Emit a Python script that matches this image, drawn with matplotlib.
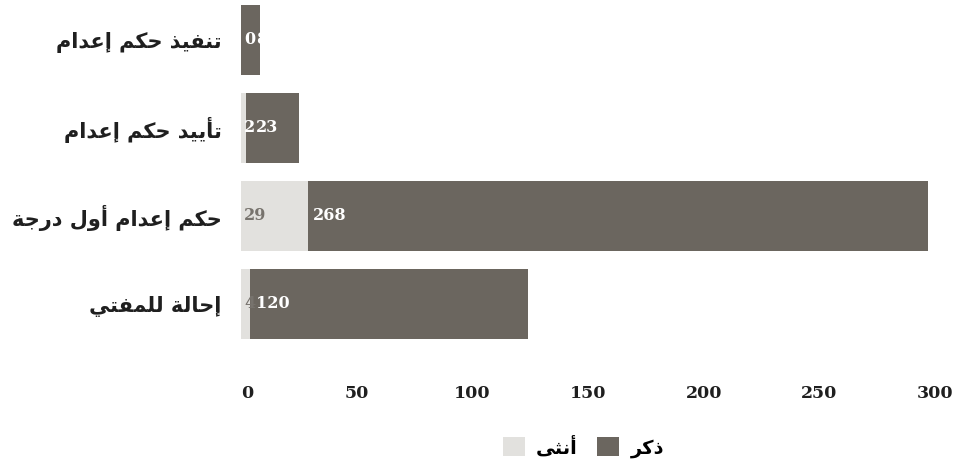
import matplotlib
matplotlib.use('Agg')
import matplotlib.pyplot as plt
from matplotlib.patches import Patch
from matplotlib.transforms import offset_copy

# Arabic letters -> presentation forms (isolated, final[, initial, medial])
FORMS = {
    'ا': (0xFE8D, 0xFE8E), 'أ': (0xFE83, 0xFE84), 'إ': (0xFE87, 0xFE88),
    'ة': (0xFE93, 0xFE94), 'د': (0xFEA9, 0xFEAA), 'ذ': (0xFEAB, 0xFEAC),
    'ر': (0xFEAD, 0xFEAE), 'و': (0xFEED, 0xFEEE), 'ى': (0xFEEF, 0xFEF0),
    'ت': (0xFE95, 0xFE96, 0xFE97, 0xFE98), 'ث': (0xFE99, 0xFE9A, 0xFE9B, 0xFE9C),
    'ج': (0xFE9D, 0xFE9E, 0xFE9F, 0xFEA0), 'ح': (0xFEA1, 0xFEA2, 0xFEA3, 0xFEA4),
    'ع': (0xFEC9, 0xFECA, 0xFECB, 0xFECC), 'ف': (0xFED1, 0xFED2, 0xFED3, 0xFED4),
    'ك': (0xFED9, 0xFEDA, 0xFEDB, 0xFEDC), 'ل': (0xFEDD, 0xFEDE, 0xFEDF, 0xFEE0),
    'م': (0xFEE1, 0xFEE2, 0xFEE3, 0xFEE4), 'ن': (0xFEE5, 0xFEE6, 0xFEE7, 0xFEE8),
    'ي': (0xFEF1, 0xFEF2, 0xFEF3, 0xFEF4),
}


def shape(text):
    out = []
    for i, ch in enumerate(text):
        f = FORMS.get(ch)
        if f is None:
            out.append(ch)
            continue
        prev = text[i - 1] if i > 0 else ''
        nxt = text[i + 1] if i + 1 < len(text) else ''
        joins_prev = prev in FORMS and len(FORMS[prev]) == 4
        joins_next = len(f) == 4 and nxt in FORMS
        if joins_prev and joins_next:
            code = f[3]
        elif joins_prev:
            code = f[1]
        elif joins_next:
            code = f[2]
        else:
            code = f[0]
        out.append(chr(code))
    # matplotlib lays glyphs left to right, so reverse for RTL
    return ''.join(reversed(out))


# Data
categories = ['تنفيذ حكم إعدام', 'تأييد حكم إعدام', 'حكم إعدام أول درجة', 'إحالة للمفتي']
female = [0, 2, 29, 4]
male = [8, 23, 268, 120]
series_names = ['أنثى', 'ذكر']
x_ticks = [0, 50, 100, 150, 200, 250, 300]

colors = {'female': '#e2e1de', 'male': '#6b665f', 'female_text': '#77736d', 'text': '#1f1f1f'}
arabic_font = 'DejaVu Sans'
number_font = 'DejaVu Serif'

fig = plt.figure(figsize=(9.63, 4.63), dpi=100)
ax = fig.add_axes([0.2503, 0.2484, 0.971 - 0.2503, 0.7516])

y = list(range(len(categories)))
ax.barh(y, female, height=0.795, color=colors['female'])
ax.barh(y, male, left=female, height=0.795, color=colors['male'])

ax.set_xlim(0, 300)
ax.set_ylim(3.5, -0.45)
for side in ax.spines.values():
    side.set_visible(False)

ax.set_yticks(y)
ax.set_yticklabels([shape(c) for c in categories], fontfamily=arabic_font,
                   fontweight='bold', fontsize=15, color=colors['text'])
ax.set_xticks(x_ticks)
ax.set_xticklabels([str(t) for t in x_ticks], fontfamily=number_font,
                   fontweight='bold', fontsize=12.5, color=colors['text'])
ax.tick_params(axis='y', length=0, pad=14)
ax.tick_params(axis='x', length=0, pad=27)
ax.get_xticklabels()[0].set_horizontalalignment('left')

# Value labels inside the segments
fig.canvas.draw()
renderer = fig.canvas.get_renderer()
for i in y:
    f_txt = ax.text(0, i, str(female[i]), ha='left', va='center', fontfamily=number_font,
                    fontweight='bold', fontsize=11.5, color=colors['female_text'],
                    transform=offset_copy(ax.transData, fig=fig, x=3, y=0, units='dots'))
    f_ext = f_txt.get_window_extent(renderer)
    seg_start = ax.transData.transform((female[i], i))[0]
    # a label that spills onto the dark segment is drawn in white
    if f_ext.x0 + f_ext.width / 2 > seg_start:
        f_txt.set_color('white')
    x_px = max(seg_start + 5, f_ext.x1 + 1)
    x_data = ax.transData.inverted().transform((x_px, 0))[0]
    ax.text(x_data, i, str(male[i]), ha='left', va='center', fontfamily=number_font,
            fontweight='bold', fontsize=11.5, color='white')

# Legend
handles = [Patch(facecolor=colors['female'], label=shape(series_names[0])),
           Patch(facecolor=colors['male'], label=shape(series_names[1]))]
leg = fig.legend(handles=handles, loc='center', bbox_to_anchor=(0.606, 0.035), ncol=2,
                 frameon=False, handlelength=1.1, handleheight=1.1, handletextpad=0.6,
                 columnspacing=1.0, prop={'family': arabic_font, 'weight': 'bold', 'size': 14})

fig.savefig('out.png', dpi=100)
